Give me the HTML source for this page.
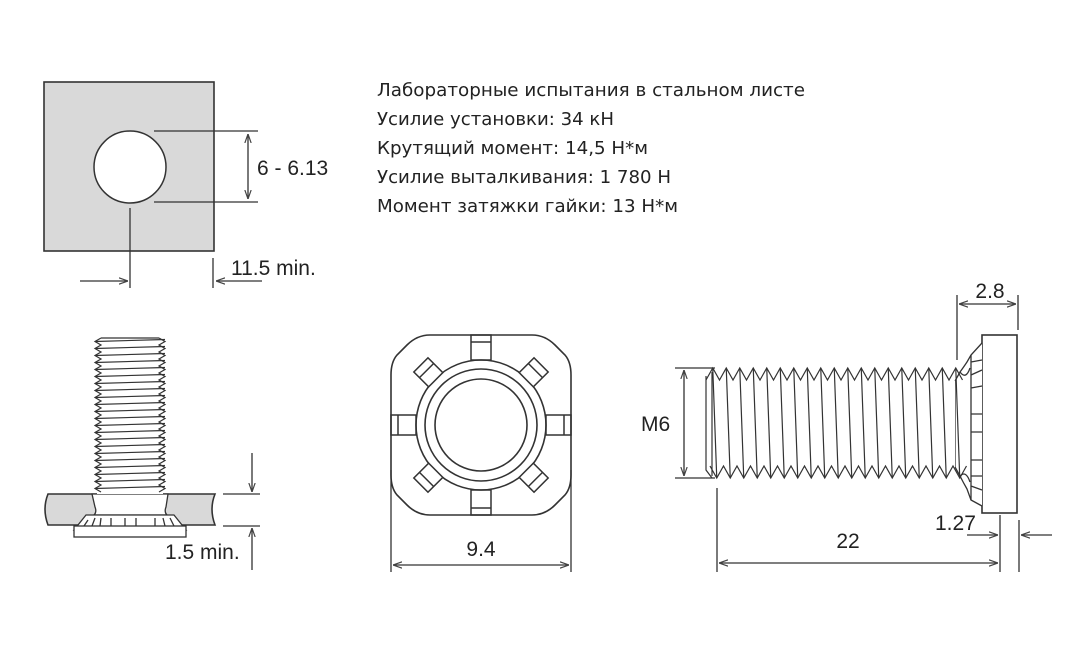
<!DOCTYPE html>
<html><head><meta charset="utf-8"><style>
html,body{margin:0;padding:0;background:#fff;width:1074px;height:672px;overflow:hidden}
svg{display:block}
text{fill:#222}
.t text{font-family:"DejaVu Sans","Liberation Sans",sans-serif;font-size:17.5px}
.l text{font-family:"Liberation Sans",Arial,sans-serif}
</style></head><body>
<svg id="s" width="1074" height="672" viewBox="0 0 1074 672" xmlns="http://www.w3.org/2000/svg">
<defs>
<marker id="a" viewBox="0 0 10 10" refX="10" refY="5" markerWidth="9" markerHeight="9" orient="auto-start-reverse" markerUnits="userSpaceOnUse"><path d="M0,1.5 L10,5 L0,8.5" fill="none" stroke="#444" stroke-width="1.3"/></marker>
</defs>
<g stroke="#333" stroke-width="1.3" fill="none">
<rect x="44" y="82" width="170" height="169" fill="#d9d9d9" stroke="#333" stroke-width="1.6"/>
<circle cx="130" cy="167" r="36" fill="#fff" stroke-width="1.5"/>
<line x1="154" y1="131" x2="258" y2="131"/>
<line x1="154" y1="202" x2="258" y2="202"/>
<line x1="248" y1="134" x2="248" y2="199" marker-start="url(#a)" marker-end="url(#a)"/>
<line x1="130" y1="208" x2="130" y2="288"/>
<line x1="213" y1="258" x2="213" y2="288"/>
<line x1="80" y1="281" x2="128" y2="281" marker-end="url(#a)"/>
<line x1="262" y1="281" x2="216" y2="281" marker-end="url(#a)"/>

<path d="M48,494 L215,494 Q209,509 215,525 L48,525 Q42,509 48,494 Z" fill="#d9d9d9" stroke-width="1.6"/>
<path d="M92,494 L168,494 L166,507 Q164,512 167,515 L94,515 Q97,512 95,507 Z" fill="#fff"/>
<path d="M86,515 L174,515 L186,530 L74,530 Z" fill="#fff"/>
<rect x="74" y="526" width="112" height="11" fill="#fff"/>
<g id="lthread"></g>
<path d="M88,520 L84,526 M95,518 L92,526 M101,518 L100,526 M111,518 L111,526 M125,518 L125,526 M136,518 L136,526 M155,518 L155,526 M163,518 L165,526 M170,518 L174,526"/>
<line x1="252" y1="453" x2="252" y2="492" marker-end="url(#a)"/>
<line x1="223" y1="494" x2="260" y2="494"/>
<line x1="223" y1="526" x2="260" y2="526"/>
<line x1="252" y1="570" x2="252" y2="528" marker-end="url(#a)"/>

<path d="M430,335 L532,335 Q545,335 555,345 L565,355 Q571,362 571,375 L571,475 Q571,488 565,495 L555,505 Q545,515 532,515 L430,515 Q417,515 407,505 L397,495 Q391,488 391,475 L391,375 Q391,362 397,355 L407,345 Q417,335 430,335 Z" stroke-width="1.6"/>
<circle cx="481" cy="425" r="65" stroke-width="1.6"/>
<circle cx="481" cy="425" r="56" stroke-width="1.6"/>
<circle cx="481" cy="425" r="46" stroke-width="1.6"/>
<g stroke-width="1.5">
<rect x="471" y="335" width="20" height="25"/><line x1="471" y1="342" x2="491" y2="342"/>
<rect x="471" y="490" width="20" height="25"/><line x1="471" y1="508" x2="491" y2="508"/>
<rect x="391" y="415" width="25" height="20"/><line x1="398" y1="415" x2="398" y2="435"/>
<rect x="546" y="415" width="25" height="20"/><line x1="564" y1="415" x2="564" y2="435"/>
<g transform="rotate(45 481 425)"><rect x="471" y="340" width="20" height="21" fill="#fff"/><line x1="471" y1="348" x2="491" y2="348"/><rect x="471" y="489" width="20" height="21" fill="#fff"/><line x1="471" y1="502" x2="491" y2="502"/></g>
<g transform="rotate(-45 481 425)"><rect x="471" y="340" width="20" height="21" fill="#fff"/><line x1="471" y1="348" x2="491" y2="348"/><rect x="471" y="489" width="20" height="21" fill="#fff"/><line x1="471" y1="502" x2="491" y2="502"/></g>
</g>
<line x1="391" y1="470" x2="391" y2="572"/>
<line x1="571" y1="470" x2="571" y2="572"/>
<line x1="393" y1="565" x2="569" y2="565" marker-start="url(#a)" marker-end="url(#a)"/>

<rect x="982" y="335" width="35" height="178" fill="#fff" stroke-width="1.6"/>
<path d="M982,343 L971,355 L967,362 Q963,368 960,372 L955,381 L955,467 L960,476 Q963,482 967,489 L971,500 L982,506" fill="#fff"/>
<path d="M982,360 L971,362 M982,370 L971,375 M982,386 L971,388 M982,414 L971,414 M982,432 L971,432 M982,460 L971,460 M982,476 L971,476 M982,490 L971,486 M971,355 L971,500"/>
<path d="M960,372 Q966,380 970,368 M960,476 Q966,470 970,482"/>
<g id="rthread"></g>
<line x1="675" y1="368" x2="715" y2="368"/>
<line x1="675" y1="478" x2="715" y2="478"/>
<line x1="684" y1="370" x2="684" y2="476" marker-start="url(#a)" marker-end="url(#a)"/>
<line x1="957" y1="295" x2="957" y2="360"/>
<line x1="1018" y1="295" x2="1018" y2="330"/>
<line x1="959" y1="304" x2="1016" y2="304" marker-start="url(#a)" marker-end="url(#a)"/>
<line x1="717" y1="488" x2="717" y2="572"/>
<line x1="1000" y1="515" x2="1000" y2="572"/>
<line x1="719" y1="563" x2="998" y2="563" marker-start="url(#a)" marker-end="url(#a)"/>
<line x1="1019" y1="520" x2="1019" y2="572"/>
<line x1="967" y1="535" x2="998" y2="535" marker-end="url(#a)"/>
<line x1="1052" y1="535" x2="1021" y2="535" marker-end="url(#a)"/>
</g>
<g class="t">
<text x="377" y="96" textLength="428" lengthAdjust="spacingAndGlyphs">Лабораторные испытания в стальном листе</text>
<text x="377" y="125" textLength="237" lengthAdjust="spacingAndGlyphs">Усилие установки: 34 кН</text>
<text x="377" y="154" textLength="271" lengthAdjust="spacingAndGlyphs">Крутящий момент: 14,5 Н*м</text>
<text x="377" y="183" textLength="294" lengthAdjust="spacingAndGlyphs">Усилие выталкивания: 1 780 Н</text>
<text x="377" y="212" textLength="301" lengthAdjust="spacingAndGlyphs">Момент затяжки гайки: 13 Н*м</text>
</g>
<g class="l">
<text x="257" y="175" font-size="21">6 - 6.13</text>
<text x="231" y="275" font-size="21">11.5 min.</text>
<text x="165" y="559" font-size="21">1.5 min.</text>
<text x="481" y="556" font-size="21" text-anchor="middle">9.4</text>
<text x="641" y="431" font-size="21">M6</text>
<text x="848" y="548" font-size="21" text-anchor="middle">22</text>
<text x="935" y="530" font-size="21">1.27</text>
<text x="990" y="298" font-size="21" text-anchor="middle">2.8</text>
</g>
</svg>
<script>
(function(){
var NS="http://www.w3.org/2000/svg";
function P(g,d,fill,ns){var p=document.createElementNS(NS,"path");p.setAttribute("d",d);p.setAttribute("fill",fill||"none");p.setAttribute("stroke",ns?"none":"#333");p.setAttribute("stroke-width","1.2");g.appendChild(p);}
var g=document.getElementById("rthread");
var x0=706,x1=950,pitch=13.5;
P(g,"M706,375 L950,375 L955,381 L955,467 L950,474 L706,474 Z","#fff",true);
var tp="M"+x0+",380",bp="M"+(x0+4)+",466",d="";
for(var x=x0;x<x1;x+=pitch){tp+=" L"+(x+pitch/2)+",368 L"+(x+pitch)+",380";bp+=" L"+(x+pitch/2+4)+",478 L"+(x+pitch+4)+",466";d+="M"+(x+pitch/2)+",368 L"+(x+pitch/2+4)+",478 ";}
P(g,tp);P(g,bp);P(g,d);
P(g,"M706,376 L706,470 L712,478 M712,372 L712,476");
var h=document.getElementById("lthread");
P(h,"M97,340 L163,340 L163,494 L97,494 Z","#fff",true);
var lp="M101,338",rp="M159,338",ln="";
for(var y=338;y<488;y+=7){lp+=" L95,"+(y+3.5)+" L101,"+(y+7);rp+=" L165,"+(y+3.5)+" L159,"+(y+7);ln+="M95,"+(y+3.5)+" L165,"+(y+1.5)+" ";}
P(h,lp);P(h,rp);P(h,ln);
P(h,"M101,338 L159,338");
})();
</script>
</body></html>
